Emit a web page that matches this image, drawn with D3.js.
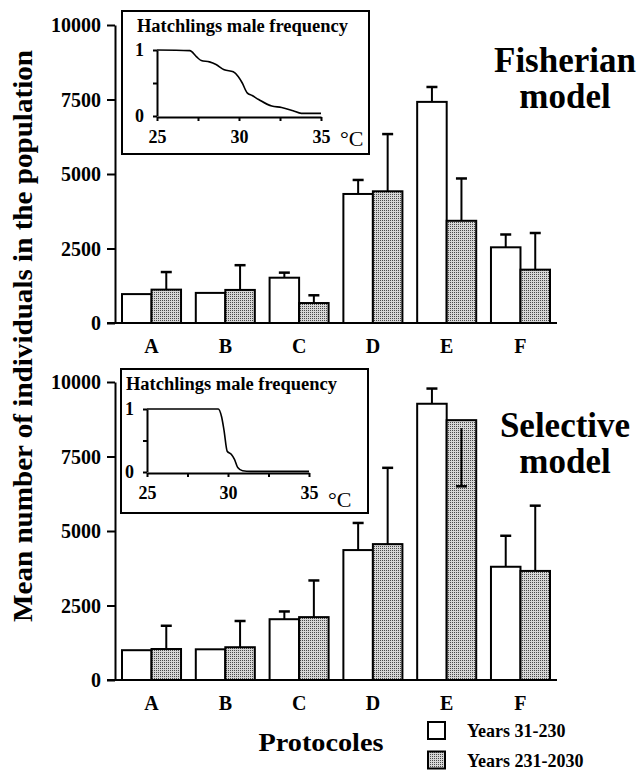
<!DOCTYPE html>
<html lang="en">
<head>
<meta charset="UTF-8">
<title>Mean number of individuals</title>
<script src="https://d3js.org/d3.v7.min.js"></script>
<style>
  body { margin: 0; background: #fff; }
  svg text { font-family: "Liberation Serif", "DejaVu Serif", serif; font-weight: bold; fill: #000; }
</style>
</head>
<body>
<svg id="chart" width="642" height="771"></svg>
<script>
// protocols on the x axis
const protocols = ["A", "B", "C", "D", "E", "F"];
const yTicks = [0, 2500, 5000, 7500, 10000];

// Fisherian model: means and error bar lengths
const fisherEarly = [970, 1010, 1520, 4330, 7420, 2540];
const fisherEarlyErr = [0, 0, 170, 470, 500, 430];
const fisherLate = [1120, 1110, 670, 4420, 3430, 1790];
const fisherLateErr = [590, 830, 260, 1920, 1420, 1230];

// Selective model
const selEarly = [1000, 1030, 2040, 4360, 9270, 3800];
const selEarlyErr = [0, 0, 260, 910, 510, 1040];
const selLate = [1040, 1100, 2110, 4560, 8720, 3660];
const selLateErr = [780, 880, 1230, 2560, -2220, 2190];

// inset curves: hatchlings male frequency vs temperature
const fisherTemp = [25, 27.0, 27.4, 27.7, 28.2, 28.6, 29.1, 29.65, 29.95, 30.2, 30.5, 30.8, 31.2, 32.0, 32.6, 33.3, 33.8, 35];
const fisherFreq = [1, 0.99, 0.9, 0.84, 0.82, 0.78, 0.7, 0.67, 0.6, 0.5, 0.35, 0.31, 0.25, 0.15, 0.13, 0.08, 0.04, 0.04];
const selTemp = [25, 29.4, 29.6, 29.75, 29.95, 30.2, 30.4, 30.6, 30.9, 31.4, 35];
const selFreq = [1, 1, 0.88, 0.67, 0.33, 0.28, 0.2, 0.07, 0.02, 0.01, 0.01];
const insetTempTicks = [25, 27.5, 30, 32.5, 35];
const insetFreqTicks = [0, 0.5, 1];

const legendLabels = ["Years 31-230", "Years 231-2030"];

const FONT = '"Liberation Serif", "DejaVu Serif", serif';
const svg = d3.select("#chart");

const defs = svg.append("defs");
const pat = defs.append("pattern")
  .attr("id", "dots")
  .attr("width", 2).attr("height", 2)
  .attr("patternUnits", "userSpaceOnUse");
pat.append("rect").attr("width", 2).attr("height", 2).attr("fill", "#d6d6d6");
pat.append("rect").attr("width", 1).attr("height", 1).attr("fill", "#4a4a4a");

const fills = ["#fff", "url(#dots)"];

const x = d3.scaleBand().domain(protocols).range([122, 550]).paddingInner(0.2);
const xSub = d3.scaleBand().domain([0, 1]).range([0, x.bandwidth()]);

function label(sel, size) {
  return sel.style("font-family", FONT).style("font-weight", "bold").style("font-size", size + "px");
}

function drawPanel(p) {
  const y = d3.scaleLinear().domain([0, 10000]).range([p.bottom, p.top]);
  const g = svg.append("g");

  // y axis
  const ya = g.append("g")
    .attr("transform", "translate(115,0)")
    .call(d3.axisLeft(y).tickValues(yTicks).tickFormat(d3.format("d"))
      .tickSize(8).tickSizeOuter(0).tickPadding(6));
  ya.selectAll("path, line").attr("stroke", "#000").attr("stroke-width", 2);
  label(ya.selectAll("text"), 20).attr("dy", "0.34em");

  // bars
  const series = [p.early, p.late];
  const errs = [p.earlyErr, p.lateErr];
  series.forEach((vals, i) => {
    g.selectAll(null)
      .data(vals)
      .join("rect")
      .attr("x", (d, j) => x(protocols[j]) + xSub(i))
      .attr("y", d => y(d))
      .attr("width", xSub.bandwidth())
      .attr("height", d => y(0) - y(d))
      .attr("fill", fills[i])
      .attr("stroke", "#000")
      .attr("stroke-width", 2);
  });

  // error bars
  series.forEach((vals, i) => {
    vals.forEach((v, j) => {
      const e = errs[i][j];
      if (!e) return;
      const cx = x(protocols[j]) + xSub(i) + xSub.bandwidth() / 2;
      const start = e < 0 ? y(v) + 8 : y(v);
      g.append("line")
        .attr("x1", cx).attr("x2", cx)
        .attr("y1", start).attr("y2", y(v + e))
        .attr("stroke", "#000").attr("stroke-width", 2);
      g.append("line")
        .attr("x1", cx - 5.5).attr("x2", cx + 5.5)
        .attr("y1", y(v + e)).attr("y2", y(v + e))
        .attr("stroke", "#000").attr("stroke-width", 2.5);
    });
  });

  // x axis line
  g.append("line")
    .attr("x1", 107).attr("x2", 557)
    .attr("y1", y(0)).attr("y2", y(0))
    .attr("stroke", "#000").attr("stroke-width", 2);

  const xa = g.append("g")
    .attr("transform", `translate(0,${y(0)})`)
    .call(d3.axisBottom(x).tickSize(0).tickPadding(16));
  xa.select(".domain").remove();
  label(xa.selectAll("text"), 20);

  // model title
  label(g.selectAll(null)
    .data(p.title)
    .join("text")
    .attr("x", 565)
    .attr("y", (d, i) => p.titleY + i * 36)
    .attr("text-anchor", "middle"), 35)
    .text(d => d);

  // inset
  const b = p.box;
  g.append("rect")
    .attr("x", b.x).attr("y", b.y)
    .attr("width", b.w).attr("height", b.h)
    .attr("fill", "#fff").attr("stroke", "#000").attr("stroke-width", 2);
  label(g.append("text")
    .attr("x", p.insetTitleX).attr("y", b.y + 21), 18)
    .attr("textLength", 211)
    .attr("lengthAdjust", "spacingAndGlyphs")
    .text("Hatchlings male frequency");

  const tx = d3.scaleLinear().domain([25, 35]).range(p.insetX);
  const fy = d3.scaleLinear().domain([0, 1]).range(p.insetY);

  const ia = g.append("g")
    .attr("transform", `translate(0,${fy(0) + 1})`)
    .call(d3.axisBottom(tx).tickValues(insetTempTicks).tickSize(4).tickSizeOuter(0).tickPadding(9)
      .tickFormat(d => d % 5 === 0 ? d : ""));
  ia.selectAll("path, line").attr("stroke", "#000").attr("stroke-width", 2);
  label(ia.selectAll("text"), 18);

  const ib = g.append("g")
    .attr("transform", `translate(${tx(25)},0)`)
    .call(d3.axisLeft(fy).tickValues(insetFreqTicks).tickSize(4).tickSizeOuter(0).tickPadding(9)
      .tickFormat(d => d === 0.5 ? "" : d));
  ib.selectAll("path, line").attr("stroke", "#000").attr("stroke-width", 2);
  label(ib.selectAll("text"), 18);

  g.append("path")
    .datum(p.temp.map((t, i) => [t, p.freq[i]]))
    .attr("d", d3.line().x(d => tx(d[0])).y(d => fy(d[1])).curve(d3.curveMonotoneX))
    .attr("fill", "none").attr("stroke", "#000").attr("stroke-width", 1.6);

  label(g.append("text")
    .attr("x", p.degX).attr("y", p.degY), 22)
    .style("font-weight", "normal")
    .text("°C");
}

drawPanel({
  top: 25, bottom: 323,
  early: fisherEarly, earlyErr: fisherEarlyErr,
  late: fisherLate, lateErr: fisherLateErr,
  title: ["Fisherian", "model"], titleY: 72,
  box: { x: 122, y: 11, w: 247, h: 143 },
  insetTitleX: 137,
  insetX: [157, 321], insetY: [116, 50],
  temp: fisherTemp, freq: fisherFreq,
  degX: 340, degY: 146
});

drawPanel({
  top: 382, bottom: 680,
  early: selEarly, earlyErr: selEarlyErr,
  late: selLate, lateErr: selLateErr,
  title: ["Selective", "model"], titleY: 437,
  box: { x: 121, y: 369, w: 247, h: 144 },
  insetTitleX: 126,
  insetX: [147, 309], insetY: [472, 409],
  temp: selTemp, freq: selFreq,
  degX: 328, degY: 507
});

// y axis title
label(svg.append("text")
  .attr("transform", "translate(32,336) rotate(-90)")
  .attr("text-anchor", "middle")
  .attr("textLength", 572)
  .attr("lengthAdjust", "spacingAndGlyphs"), 28)
  .text("Mean number of individuals in the population");

// x axis title
label(svg.append("text")
  .attr("x", 321).attr("y", 751)
  .attr("text-anchor", "middle")
  .attr("textLength", 125)
  .attr("lengthAdjust", "spacingAndGlyphs"), 26)
  .text("Protocoles");

// legend
const lg = svg.append("g");
legendLabels.forEach((lab, i) => {
  lg.append("rect")
    .attr("x", 428).attr("y", 722 + i * 29.5)
    .attr("width", 17).attr("height", 17)
    .attr("fill", fills[i]).attr("stroke", "#000").attr("stroke-width", 2);
  label(lg.append("text")
    .attr("x", 467).attr("y", 737 + i * 30), 18)
    .text(lab);
});
</script>
</body>
</html>
